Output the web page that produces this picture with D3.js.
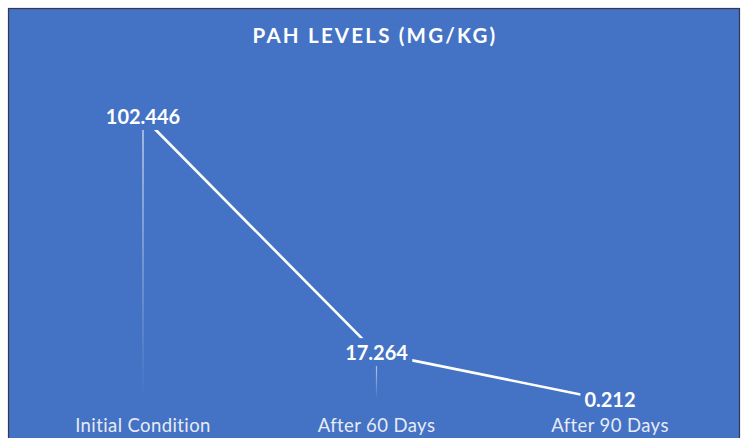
<!DOCTYPE html>
<html><head><meta charset="utf-8">
<script src="https://cdn.jsdelivr.net/npm/d3@7/dist/d3.min.js"></script>
<style>
html,body{margin:0;padding:0;background:#fff;}
svg{display:block;}
</style></head>
<body>
<svg id="chart" width="747" height="438"></svg>
<script>
const categories = ["Initial Condition", "After 60 Days", "After 90 Days"];
const values = [102.446, 17.264, 0.212];
const valueLabels = ["102.446", "17.264", "0.212"];
const title = "PAH LEVELS (MG/KG)";

const svg = d3.select("#chart");
const bg = "#4472C4";
const font = "Lato, 'Noto Sans', sans-serif";

// chart frame
svg.append("rect").attr("x", 8.5).attr("y", 8.5).attr("width", 731).attr("height", 440)
  .attr("fill", bg).attr("stroke", "#2f3b52").attr("stroke-width", 1.2);

const x = d3.scalePoint().domain(categories).range([143, 610]).padding(0);
const y = d3.scaleLinear().domain([0, 102.446]).range([401, 117]);

// title
svg.append("text").attr("x", 375).attr("y", 43).attr("text-anchor", "middle")
  .attr("fill", "#fff").attr("font-family", font).attr("font-weight", 700)
  .attr("font-size", 20.5).attr("letter-spacing", 2.2).text(title);

// drop lines gradient
const defs = svg.append("defs");
const grad = defs.append("linearGradient").attr("id", "dropg")
  .attr("x1", 0).attr("y1", 0).attr("x2", 0).attr("y2", 1);
grad.append("stop").attr("offset", "0%").attr("stop-color", "#fff").attr("stop-opacity", 0.85);
grad.append("stop").attr("offset", "100%").attr("stop-color", "#fff").attr("stop-opacity", 0.0);

const data = categories.map((c, i) => ({c, v: values[i], lab: valueLabels[i]}));

svg.selectAll("rect.drop").data(data.slice(0, 2)).join("rect").attr("class", "drop")
  .attr("x", d => x(d.c) - 0.6).attr("width", 1.2)
  .attr("y", d => y(d.v)).attr("height", d => y(0) - y(d.v) - 2)
  .attr("fill", "url(#dropg)");

// line
const line = d3.line().x(d => x(d.c)).y(d => y(d.v));
svg.append("path").datum(data).attr("d", line).attr("fill", "none")
  .attr("stroke", "#fff").attr("stroke-width", 2.6).attr("stroke-linejoin", "round");

// value labels with background boxes
const lg = svg.selectAll("g.lab").data(data).join("g").attr("class", "lab");
lg.append("rect").attr("fill", bg);
lg.append("text").attr("x", d => x(d.c)).attr("y", d => y(d.v) + 7)
  .attr("text-anchor", "middle").attr("fill", "#fff").attr("font-family", font)
  .attr("font-weight", 700).attr("font-size", 20).text(d => d.lab);
lg.each(function() {
  const t = d3.select(this).select("text");
  const b = t.node().getBBox();
  d3.select(this).select("rect").attr("x", b.x - 4).attr("y", b.y - 2)
    .attr("width", b.width + 8).attr("height", b.height + 4);
});

// category labels
svg.selectAll("text.cat").data(categories).join("text").attr("class", "cat")
  .attr("x", d => x(d)).attr("y", 432).attr("text-anchor", "middle")
  .attr("fill", "#e6ebf5").attr("font-family", font).attr("font-size", 18.5)
  .attr("letter-spacing", 0.4).text(d => d);
</script>
</body></html>
